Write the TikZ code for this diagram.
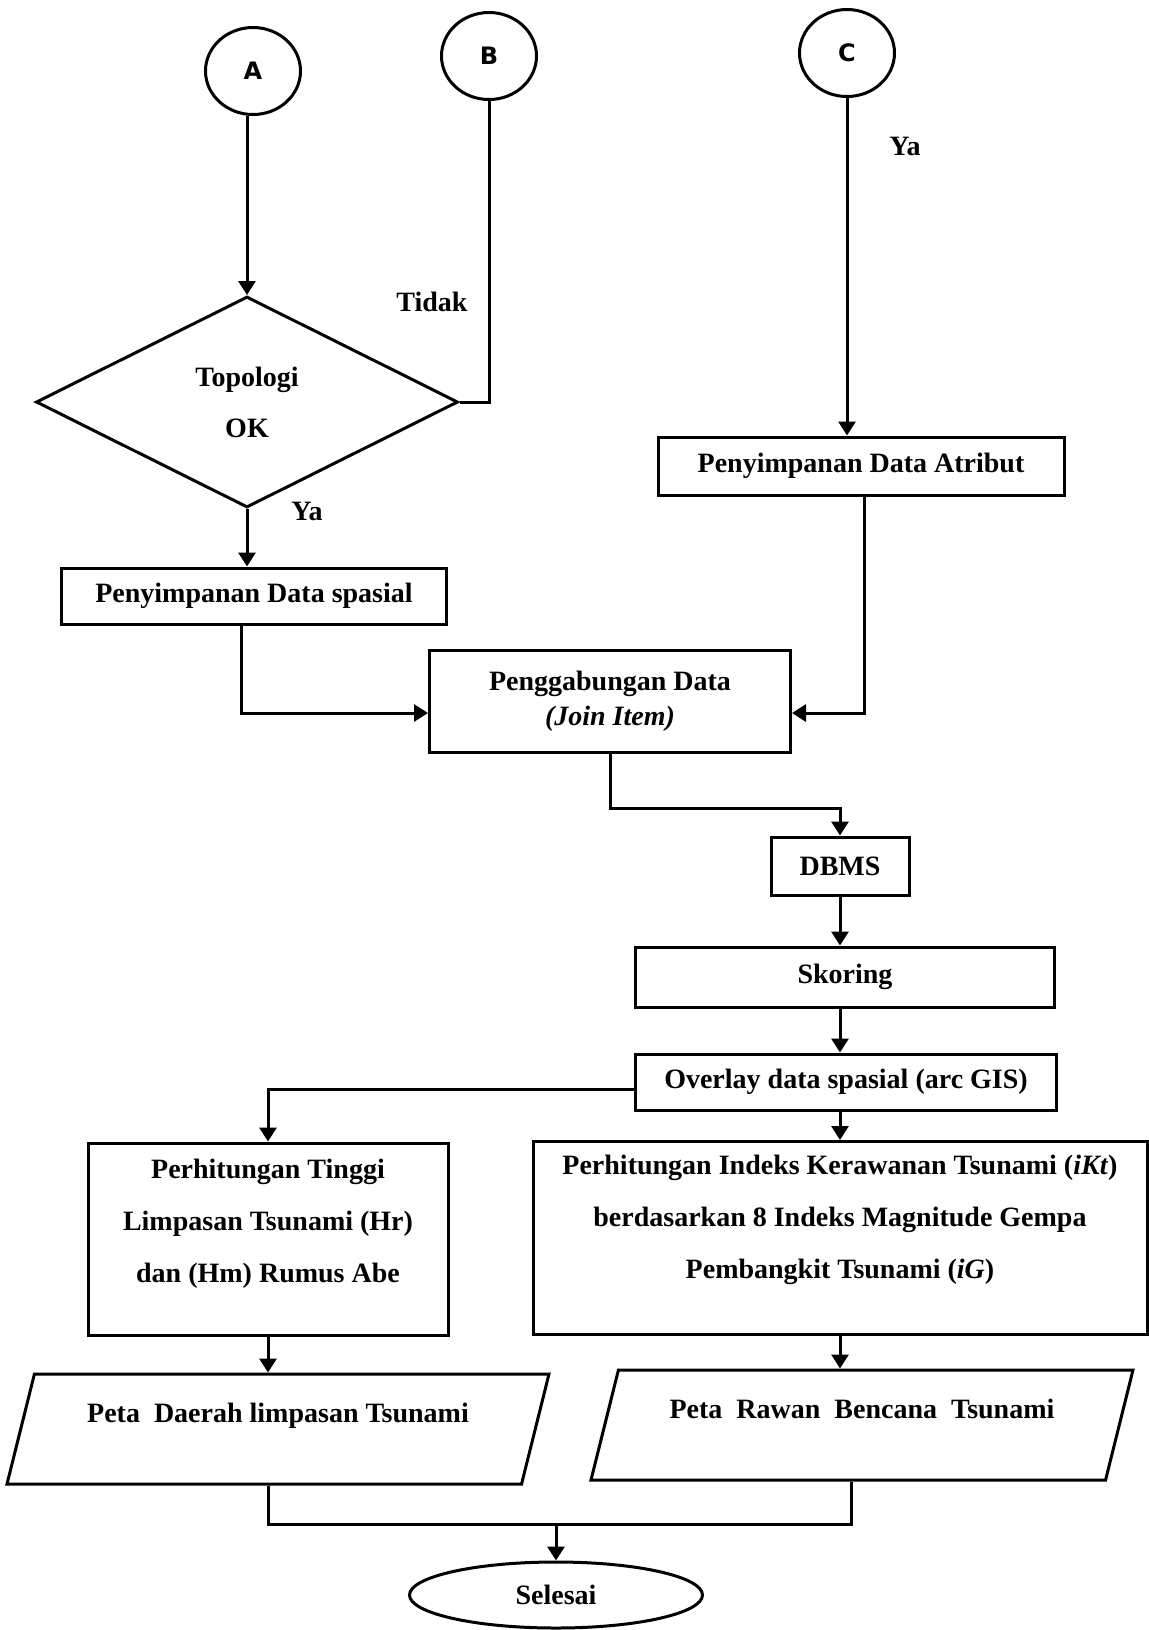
\documentclass[tikz,border=0pt]{standalone}
\usepackage{fontspec}
\setmainfont{Liberation Serif}
\newfontfamily\circfont{DejaVu Sans}
\usetikzlibrary{shapes.geometric,arrows.meta}

\begin{document}
\begin{tikzpicture}[> = {Triangle[length=7pt,width=8.5pt]},x=0.5pt,y=-0.5pt,line width=1.5pt,
	every node/.style={font=\fontsize{14}{17.5}\selectfont\bfseries},
	conn/.style={ellipse,draw,inner sep=0pt,minimum width=47.5pt,minimum height=43.5pt,font=\circfont\bfseries\fontsize{12}{14}\selectfont},
	box/.style={rectangle,draw,align=center,inner sep=0pt},
	tall/.style={font=\fontsize{14}{26}\selectfont\bfseries},
	dec/.style={diamond,draw,aspect=2,inner sep=0pt,minimum width=211pt,minimum height=105.5pt,align=center,font=\fontsize{14}{25.5}\selectfont\bfseries},
	io/.style={trapezium,draw,trapezium left angle=76,trapezium right angle=104,trapezium stretches body=true,inner ysep=14pt,text height=10pt,text depth=17pt},
	term/.style={ellipse,draw,inner sep=0pt,minimum width=146.5pt,minimum height=33pt}]
	\useasboundingbox (0,0) rectangle (1149,1630);
	\node[conn] (a) at (253,71) {A};
	\node[conn] (b) at (489,56) {B};
	\node[conn] (c) at (847,53) {C};
	\node[dec] (topo) at (247,402) {Topologi\\OK};
	\node (tidak) at (432,302) {Tidak};
	\node (ya1) at (307,511) {Ya};
	\node (ya2) at (905,146) {Ya};
	\node[box,minimum width=192.5pt,minimum height=28pt] (spasial) at (254,596) {Penyimpanan Data spasial};
	\node[box,minimum width=203pt,minimum height=29pt] (atribut) at (861,466) {Penyimpanan Data Atribut};
	\node[box,minimum width=180.5pt,minimum height=51pt] (gabung) at (610,701) {Penggabungan Data\\\textit{(Join Item)}};
	\node[box,minimum width=69pt,minimum height=29pt] (dbms) at (840,866) {DBMS};
	\node[box,minimum width=209.5pt,minimum height=30pt] (skor) at (845,977) {Skoring};
	\node[box,minimum width=210.5pt,minimum height=28pt] (overlay) at (846,1082) {Overlay data spasial (arc GIS)};
	\node[box,tall,minimum width=180pt,minimum height=96pt,text depth=18pt] (tinggi) at (268,1239) {Perhitungan Tinggi\\Limpasan Tsunami (Hr)\\dan (Hm) Rumus Abe};
	\node[box,tall,minimum width=307pt,minimum height=96.5pt,text depth=21pt] (ikt) at (840,1238) {Perhitungan Indeks Kerawanan Tsunami (\textit{iKt})\\berdasarkan 8 Indeks Magnitude Gempa\\Pembangkit Tsunami (\textit{iG})};
	\node[io,minimum width=271pt] (peta1) at (278,1429) {Peta~~Daerah limpasan Tsunami};
	\node[io,minimum width=271pt] (peta2) at (862,1425) {Peta~~Rawan~~Bencana~~Tsunami};
	\node[term] (selesai) at (556,1595) {Selesai};
	\draw[->] (a.south -| topo.north) -- (topo.north);
	\draw (b) |- (topo.east);
	\draw[->] (topo.south) -- (topo.south |- spasial.north);
	\draw[->] ([xshift=-6.5pt]spasial.south) |- ([yshift=-6pt]gabung.west);
	\draw[->] (c) -- (c |- atribut.north);
	\draw[->] ([xshift=1.5pt]atribut.south) |- ([yshift=-6pt]gabung.east);
	\draw[->] (gabung.south) -- ++(0,55) -| (dbms.north);
	\draw[->] (dbms) -- (dbms |- skor.north);
	\draw[->] (dbms |- skor.south) -- (dbms |- overlay.north);
	\draw[->] ([yshift=-3.5pt]overlay.west) -| (tinggi.north);
	\draw[->] (ikt |- overlay.south) -- (ikt.north);
	\draw[->] (tinggi) -- (tinggi |- peta1.north);
	\draw[->] (ikt) -- (ikt |- peta2.north);
	\draw (tinggi |- peta1.south) -- ++(0,39) coordinate (m) -| ([xshift=-5.5pt]peta2.south);
	\draw[->] (m -| selesai) -- (selesai);
\end{tikzpicture}
\end{document}
